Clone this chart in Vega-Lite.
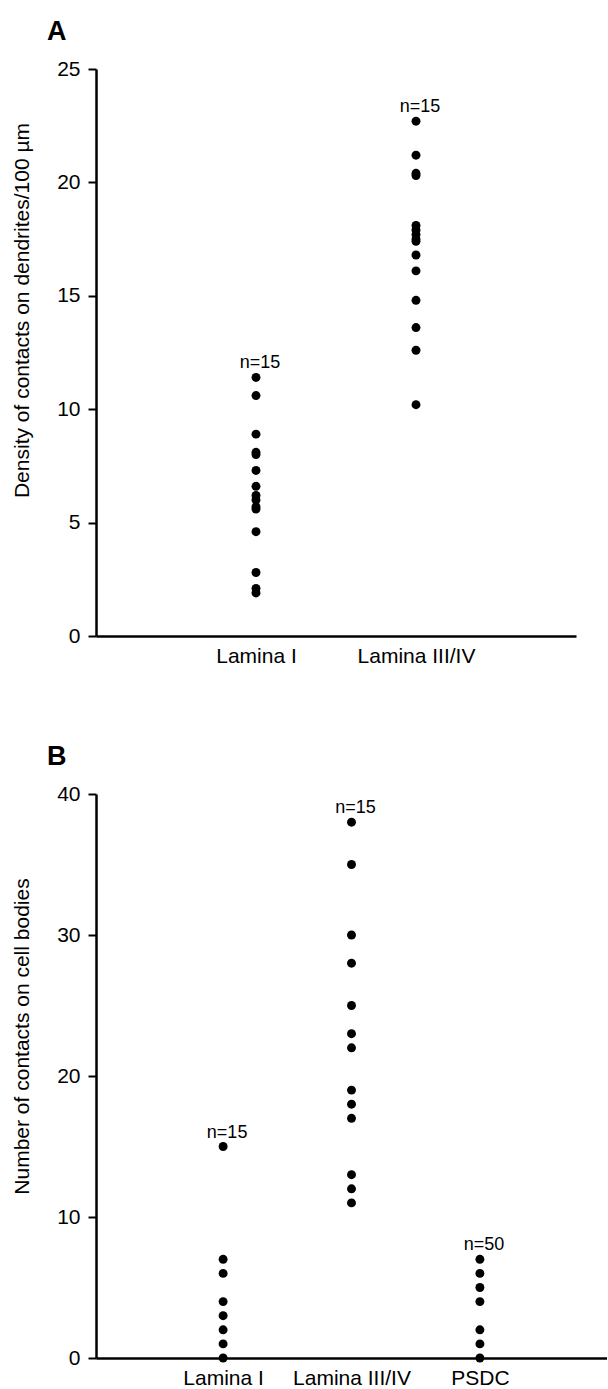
{
  "$schema": "https://vega.github.io/schema/vega-lite/v6.json",
  "padding": {"left": 11, "top": 18, "right": 0, "bottom": 0},
  "background": "white",
  "config": {
    "view": {"stroke": null},
    "font": "Liberation Sans",
    "axis": {"domainColor": "black", "domainWidth": 2.5, "tickColor": "black", "tickWidth": 2, "tickSize": 8, "labelColor": "black", "titleColor": "black", "labelFontSize": 21, "titleFontSize": 21, "titleFontWeight": "normal", "grid": false, "labelFont": "Liberation Sans", "titleFont": "Liberation Sans"},
    "axisX": {"ticks": false, "labelAngle": 0, "labelPadding": 9, "title": null},
    "axisY": {"labelPadding": 8, "titlePadding": 24},
    "title": {"fontSize": 27, "fontWeight": "bold", "anchor": "start", "color": "black", "font": "Liberation Sans"}
  },
  "spacing": 77,
  "vconcat": [
    {
      "title": {"text": "A", "frame": "group", "dx": -49, "offset": 12},
      "width": 480,
      "height": 567,
      "data": {"values": [
        {"group": "Lamina I", "value": 11.4, "label": "n=15"},
        {"group": "Lamina I", "value": 10.6, "label": "n=15"},
        {"group": "Lamina I", "value": 8.9, "label": "n=15"},
        {"group": "Lamina I", "value": 8.1, "label": "n=15"},
        {"group": "Lamina I", "value": 8.0, "label": "n=15"},
        {"group": "Lamina I", "value": 7.3, "label": "n=15"},
        {"group": "Lamina I", "value": 6.6, "label": "n=15"},
        {"group": "Lamina I", "value": 6.2, "label": "n=15"},
        {"group": "Lamina I", "value": 6.0, "label": "n=15"},
        {"group": "Lamina I", "value": 5.7, "label": "n=15"},
        {"group": "Lamina I", "value": 5.6, "label": "n=15"},
        {"group": "Lamina I", "value": 4.6, "label": "n=15"},
        {"group": "Lamina I", "value": 2.8, "label": "n=15"},
        {"group": "Lamina I", "value": 2.1, "label": "n=15"},
        {"group": "Lamina I", "value": 1.9, "label": "n=15"},
        {"group": "Lamina III/IV", "value": 22.7, "label": "n=15"},
        {"group": "Lamina III/IV", "value": 21.2, "label": "n=15"},
        {"group": "Lamina III/IV", "value": 20.4, "label": "n=15"},
        {"group": "Lamina III/IV", "value": 20.3, "label": "n=15"},
        {"group": "Lamina III/IV", "value": 18.1, "label": "n=15"},
        {"group": "Lamina III/IV", "value": 17.9, "label": "n=15"},
        {"group": "Lamina III/IV", "value": 17.7, "label": "n=15"},
        {"group": "Lamina III/IV", "value": 17.5, "label": "n=15"},
        {"group": "Lamina III/IV", "value": 17.4, "label": "n=15"},
        {"group": "Lamina III/IV", "value": 16.8, "label": "n=15"},
        {"group": "Lamina III/IV", "value": 16.1, "label": "n=15"},
        {"group": "Lamina III/IV", "value": 14.8, "label": "n=15"},
        {"group": "Lamina III/IV", "value": 13.6, "label": "n=15"},
        {"group": "Lamina III/IV", "value": 12.6, "label": "n=15"},
        {"group": "Lamina III/IV", "value": 10.2, "label": "n=15"}
      ]},
      "layer": [
        {
          "mark": {"type": "circle", "color": "black", "size": 80, "opacity": 1},
          "encoding": {
            "x": {"field": "group", "type": "nominal", "scale": {"type": "point", "padding": 1.04}},
            "y": {"field": "value", "type": "quantitative", "scale": {"domain": [0, 25], "nice": false},
                  "axis": {"values": [0, 5, 10, 15, 20, 25], "title": "Density of contacts on dendrites/100 µm", "titleY": 241}}
          }
        },
        {
          "transform": [{"aggregate": [{"op": "max", "field": "value", "as": "value"}], "groupby": ["group", "label"]}],
          "mark": {"type": "text", "baseline": "alphabetic", "dy": -9, "dx": 4, "fontSize": 18, "color": "black", "font": "Liberation Sans"},
          "encoding": {
            "x": {"field": "group", "type": "nominal"},
            "y": {"field": "value", "type": "quantitative"},
            "text": {"field": "label"}
          }
        }
      ]
    },
    {
      "title": {"text": "B", "frame": "group", "dx": -49, "offset": 12},
      "width": 511,
      "height": 564,
      "data": {"values": [
        {"group": "Lamina I", "value": 15, "label": "n=15"},
        {"group": "Lamina I", "value": 7, "label": "n=15"},
        {"group": "Lamina I", "value": 6, "label": "n=15"},
        {"group": "Lamina I", "value": 4, "label": "n=15"},
        {"group": "Lamina I", "value": 3, "label": "n=15"},
        {"group": "Lamina I", "value": 2, "label": "n=15"},
        {"group": "Lamina I", "value": 1, "label": "n=15"},
        {"group": "Lamina I", "value": 0, "label": "n=15"},
        {"group": "Lamina III/IV", "value": 38, "label": "n=15"},
        {"group": "Lamina III/IV", "value": 35, "label": "n=15"},
        {"group": "Lamina III/IV", "value": 30, "label": "n=15"},
        {"group": "Lamina III/IV", "value": 28, "label": "n=15"},
        {"group": "Lamina III/IV", "value": 25, "label": "n=15"},
        {"group": "Lamina III/IV", "value": 23, "label": "n=15"},
        {"group": "Lamina III/IV", "value": 22, "label": "n=15"},
        {"group": "Lamina III/IV", "value": 19, "label": "n=15"},
        {"group": "Lamina III/IV", "value": 18, "label": "n=15"},
        {"group": "Lamina III/IV", "value": 17, "label": "n=15"},
        {"group": "Lamina III/IV", "value": 13, "label": "n=15"},
        {"group": "Lamina III/IV", "value": 12, "label": "n=15"},
        {"group": "Lamina III/IV", "value": 11, "label": "n=15"},
        {"group": "PSDC", "value": 7, "label": "n=50"},
        {"group": "PSDC", "value": 6, "label": "n=50"},
        {"group": "PSDC", "value": 5, "label": "n=50"},
        {"group": "PSDC", "value": 4, "label": "n=50"},
        {"group": "PSDC", "value": 2, "label": "n=50"},
        {"group": "PSDC", "value": 1, "label": "n=50"},
        {"group": "PSDC", "value": 0, "label": "n=50"}
      ]},
      "layer": [
        {
          "mark": {"type": "circle", "color": "black", "size": 80, "opacity": 1},
          "encoding": {
            "x": {"field": "group", "type": "nominal", "scale": {"type": "point", "padding": 0.99}},
            "y": {"field": "value", "type": "quantitative", "scale": {"domain": [0, 40], "nice": false},
                  "axis": {"values": [0, 10, 20, 30, 40], "title": "Number of contacts on cell bodies", "titleY": 242}}
          }
        },
        {
          "transform": [{"aggregate": [{"op": "max", "field": "value", "as": "value"}], "groupby": ["group", "label"]}],
          "mark": {"type": "text", "baseline": "alphabetic", "dy": -9, "dx": 4, "fontSize": 18, "color": "black", "font": "Liberation Sans"},
          "encoding": {
            "x": {"field": "group", "type": "nominal"},
            "y": {"field": "value", "type": "quantitative"},
            "text": {"field": "label"}
          }
        }
      ]
    }
  ]
}
